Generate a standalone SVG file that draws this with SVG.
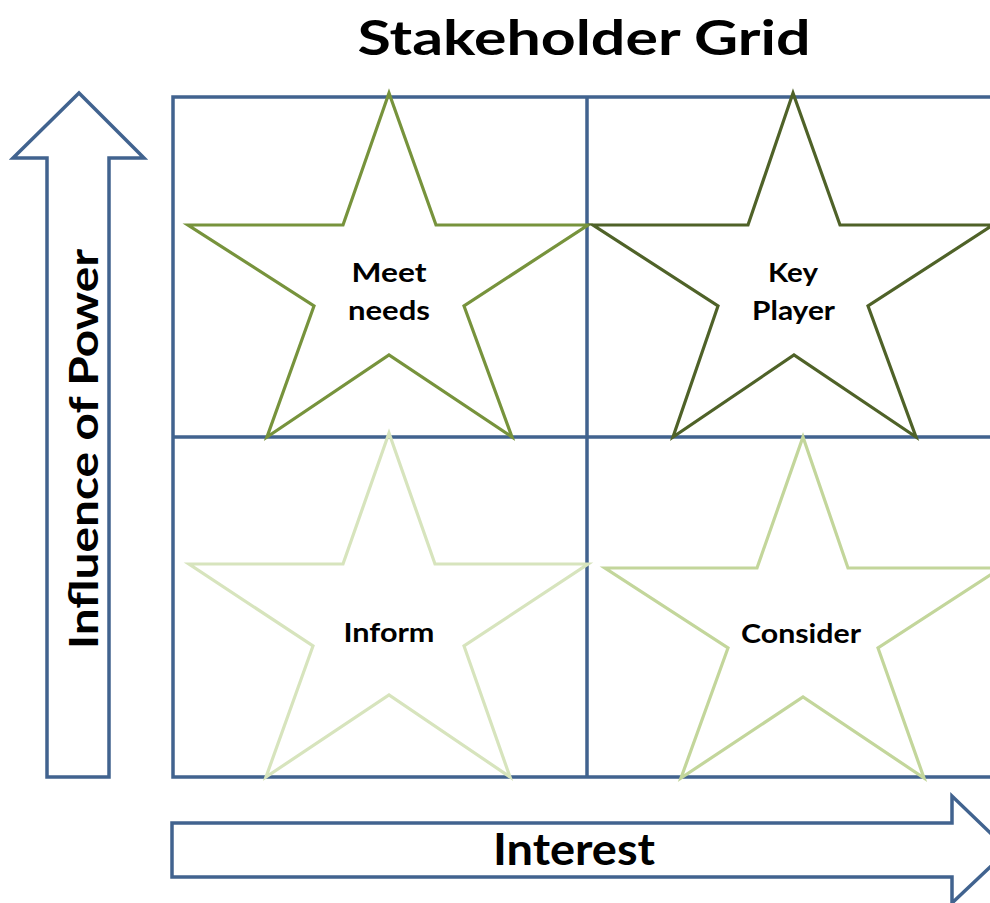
<svg xmlns="http://www.w3.org/2000/svg" width="990" height="903" viewBox="0 0 990 903">
<style>
.lbl{font-family:Lato,"Open Sans","Liberation Sans",sans-serif;font-weight:bold;fill:#000;text-anchor:middle}
.ax{fill:#fff;stroke:#41638f;stroke-width:3.5;stroke-linejoin:miter}
.grid{fill:none;stroke:#41638f;stroke-width:3.5}
.star{fill:none;stroke-width:3.2;stroke-linejoin:miter}
</style>
<rect width="990" height="903" fill="#fff"/>
<text class="lbl" x="584" y="55" font-size="47" textLength="453" lengthAdjust="spacingAndGlyphs">Stakeholder Grid</text>
<g id="grid">
<path class="grid" d="M995 97 H173 V777 H995 M587 97 V777 M173 437 H995"/>
</g>
<g id="power-axis">
<path class="ax" d="M79 93 L144 158 L109 158 L109 777 L47 777 L47 158 L13 158 Z"/>
<text class="lbl" transform="translate(98 449) rotate(-90)" font-size="41" textLength="400" lengthAdjust="spacingAndGlyphs">Influence of Power</text>
</g>
<g id="interest-axis">
<path class="ax" d="M172 823 L952 823 L952 796 L1008 850 L952 903 L952 877 L172 877 Z"/>
<text class="lbl" x="574" y="865" font-size="43" textLength="162" lengthAdjust="spacingAndGlyphs">Interest</text>
</g>
<g id="meet-needs">
<path class="star" stroke="#77933c" d="M389 93 L436 225 L588 225 L464 306 L512 437 L389 355 L267 437 L314 306 L188 225 L343 225 Z"/>
<text class="lbl" x="389" y="282" font-size="27" textLength="75" lengthAdjust="spacingAndGlyphs">Meet</text>
<text class="lbl" x="389" y="320" font-size="27" textLength="82" lengthAdjust="spacingAndGlyphs">needs</text>
</g>
<g id="key-player">
<path class="star" stroke="#4f6228" d="M793 93 L840 225 L993 225 L868 306 L916 437 L794 355 L673 437 L718 306 L593 225 L748 225 Z"/>
<text class="lbl" x="793" y="282" font-size="27" textLength="50" lengthAdjust="spacingAndGlyphs">Key</text>
<text class="lbl" x="793.5" y="320" font-size="27" textLength="83" lengthAdjust="spacingAndGlyphs">Player</text>
</g>
<g id="inform">
<path class="star" stroke="#d7e4bd" d="M389 433 L435 564 L588 564 L464 646 L510 777 L389 695 L266 777 L313 646 L189 564 L343 564 Z"/>
<text class="lbl" x="389" y="642" font-size="27" textLength="91" lengthAdjust="spacingAndGlyphs">Inform</text>
</g>
<g id="consider">
<path class="star" stroke="#c3d69b" d="M803 437 L848 568 L1001 568 L878 648 L924 778 L803 697 L681 778 L728 648 L605 568 L757 568 Z"/>
<text class="lbl" x="801" y="643" font-size="27" textLength="120" lengthAdjust="spacingAndGlyphs">Consider</text>
</g>
<g id="connectors"/>
</svg>
